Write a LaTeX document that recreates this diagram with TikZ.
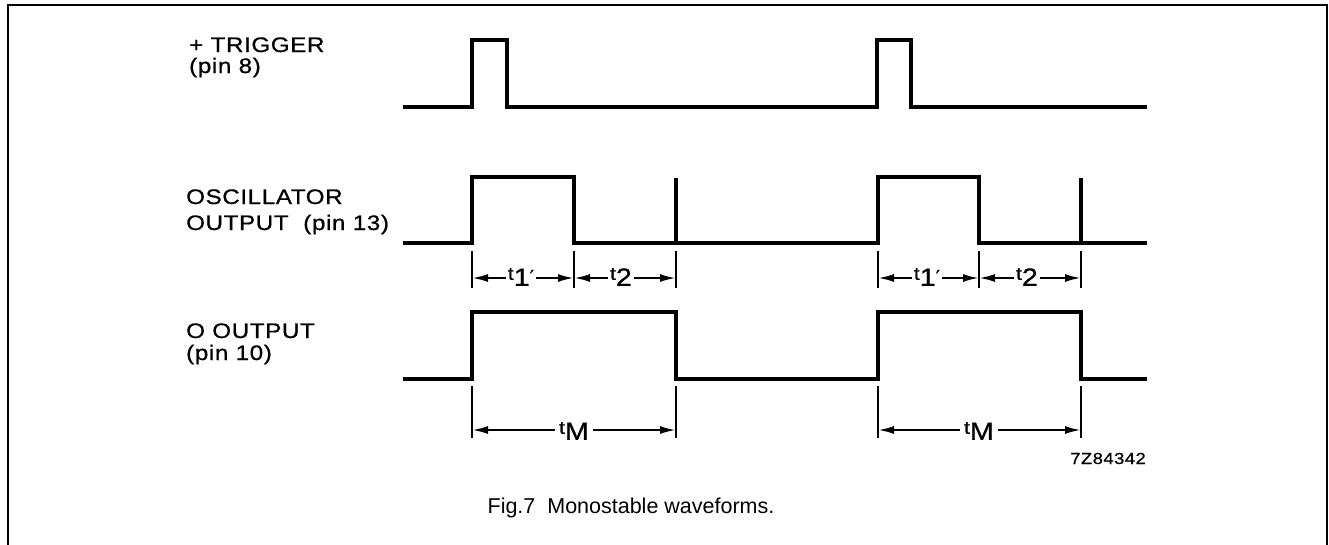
\documentclass[tikz,border=0pt]{standalone}
\usepackage{fontspec}
\setmainfont{Liberation Sans}
\newfontfamily\labfont[FakeStretch=1.15,FakeBold=0.8,LetterSpace=3]{Liberation Sans}
\newfontfamily\dvfont[FakeBold=0.5]{DejaVu Sans}
\usetikzlibrary{arrows.meta}
\tikzset{
  wave/.style={line width=3.6pt, line join=miter},
  spike/.style={line width=3.2pt},
  tickline/.style={line width=1.3pt},
  dimarrow/.style={line width=2.2pt, -{Latex[length=16pt,width=8pt]}},
  lab/.style={font=\labfont\fontsize{21}{24}\selectfont, anchor=base west, inner sep=0pt},
  tlab/.style={font=\labfont\fontsize{25}{25}\selectfont, inner sep=2pt, anchor=center},
  frame/.style={line width=1.5pt}
}
\newcommand{\smallt}{\raisebox{6pt}{\fontsize{18}{18}\selectfont t}}
\newcommand{\myprime}{\raisebox{2pt}{\dvfont\fontsize{19}{19}\selectfont ′}}
\begin{document}
\begin{tikzpicture}[x=1pt,y=-1pt]
\useasboundingbox (0,0) rectangle (1329,544);
\draw[frame] (8,548) -- (8,5) -- (1327,5) -- (1327,548);

% labels
\node[lab] (trig1) at (189,52) {+ TRIGGER};
\node[lab] (trig2) at (189,73) {(pin 8)};
\node[lab] (osc1) at (186,204) {OSCILLATOR};
\node[lab] (osc2) at (186,230) {OUTPUT\ \ (pin 13)};
\node[lab] (q1) at (186,338) {O OUTPUT};
\node[lab] (q2) at (186,360) {(pin 10)};

% trigger waveform
\draw[wave] (403,107) -- (472,107) -- (472,40) -- (507,40) -- (507,107)
  -- (877,107) -- (877,40) -- (911,40) -- (911,107) -- (1147,107);

% oscillator waveform
\draw[wave] (403,243) -- (472,243) -- (472,177) -- (574,177) -- (574,243)
  -- (878,243) -- (878,177) -- (979,177) -- (979,243) -- (1147,243);
\draw[spike] (676,243) -- (676,178);
\draw[spike] (1081,243) -- (1081,178);

% Q output waveform
\draw[wave] (403,379) -- (472,379) -- (472,312) -- (676,312) -- (676,379)
  -- (878,379) -- (878,312) -- (1081,312) -- (1081,379) -- (1147,379);

% oscillator ticks
\foreach \x/\n in {472/oa,574/ob,676/oc,878/od,979/oe,1081/of}{
  \coordinate (\n) at (\x,278);
  \draw[tickline] (\x,251) -- (\x,288);
}
% Q ticks
\foreach \x/\n in {472/qa,676/qb,878/qc,1081/qd}{
  \coordinate (\n) at (\x,430);
  \draw[tickline] (\x,386) -- (\x,438);
}

% oscillator dimension labels
\node[tlab] (ta1) at (521,277) {\smallt1\myprime};
\node[tlab] (tb1) at (621,277) {\smallt2};
\node[tlab] (ta2) at (927,277) {\smallt1\myprime};
\node[tlab] (tb2) at (1027,277) {\smallt2};
\draw[dimarrow] (ta1.west |- oa) -- (oa);
\draw[dimarrow] (ta1.east |- ob) -- (ob);
\draw[dimarrow] (tb1.west |- ob) -- (ob);
\draw[dimarrow] (tb1.east |- oc) -- (oc);
\draw[dimarrow] (ta2.west |- od) -- (od);
\draw[dimarrow] (ta2.east |- oe) -- (oe);
\draw[dimarrow] (tb2.west |- oe) -- (oe);
\draw[dimarrow] (tb2.east |- of) -- (of);

% Q dimension labels
\node[tlab, inner sep=4pt] (tm1) at (574,431) {\smallt M};
\node[tlab, inner sep=4pt] (tm2) at (979,431) {\smallt M};
\draw[dimarrow] (tm1.west |- qa) -- (qa);
\draw[dimarrow] (tm1.east |- qb) -- (qb);
\draw[dimarrow] (tm2.west |- qc) -- (qc);
\draw[dimarrow] (tm2.east |- qd) -- (qd);

% code
\node[font=\labfont\fontsize{16}{16}\selectfont, anchor=base east, inner sep=0pt] (code) at (1146,464) {7Z84342};

% caption
\node[font=\fontsize{21.5}{24}\selectfont, anchor=base, inner sep=0pt] (cap) at (631,513) {Fig.7\ \ Monostable waveforms.};
\end{tikzpicture}
\end{document}
